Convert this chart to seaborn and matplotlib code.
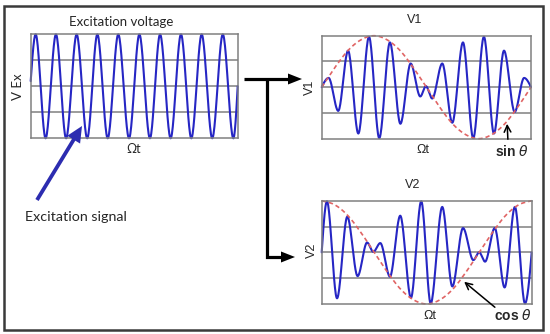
import numpy as np
import pandas as pd
import matplotlib
matplotlib.use("Agg")
import matplotlib.pyplot as plt
import seaborn as sns
from matplotlib.patches import FancyArrow, Rectangle

# ---------------- data (x = fraction of Ωt window) -------------
exc_x = [0.0, 0.024, 0.072, 0.122, 0.171, 0.222, 0.273, 0.322, 0.372, 0.423, 0.475,
         0.525, 0.576, 0.625, 0.676, 0.726, 0.776, 0.826, 0.877, 0.928, 0.979, 1.0]
exc_y = [0.1, 1.0, -1.0, 1.0, -1.0, 1.0, -1.0, 1.0, -1.0, 1.0, -1.0,
         1.0, -1.0, 1.0, -1.0, 1.0, -1.0, 1.0, -1.0, 1.0, -1.0, 0.0]

v1_x = [0.0, 0.033, 0.079, 0.126, 0.175, 0.226, 0.275, 0.326, 0.376, 0.425, 0.471,
        0.498, 0.528, 0.576, 0.624, 0.675, 0.724, 0.775, 0.823, 0.871, 0.922, 0.967, 1.0]
v1_y = [0.0, 0.18, -0.46, 0.71, -0.90, 0.98, -0.99, 0.87, -0.71, 0.46, -0.18,
        0.02, -0.22, 0.46, -0.69, 0.87, -0.99, 0.98, -0.90, 0.71, -0.48, 0.18, 0.0]

v2_x = [0.0, 0.025, 0.073, 0.122, 0.171, 0.216, 0.246, 0.279, 0.325, 0.374, 0.425,
        0.474, 0.519, 0.574, 0.622, 0.673, 0.722, 0.750, 0.778, 0.824, 0.871, 0.920,
        0.968, 1.0]
v2_y = [0.0, 0.99, -0.89, 0.69, -0.46, 0.19, 0.01, 0.18, -0.47, 0.71, -0.88,
        0.99, -0.99, 0.88, -0.66, 0.47, -0.15, 0.0, -0.18, 0.47, -0.68, 0.88,
        -0.99, 0.0]

env_x = [0.0, 0.0625, 0.125, 0.1875, 0.25, 0.3125, 0.375, 0.4375, 0.5,
         0.5625, 0.625, 0.6875, 0.75, 0.8125, 0.875, 0.9375, 1.0]
env1_y = [0.0, 0.38, 0.71, 0.92, 1.0, 0.92, 0.71, 0.38, 0.0,
          -0.38, -0.71, -0.92, -1.0, -0.92, -0.71, -0.38, 0.0]
env2_y = [1.0, 0.92, 0.71, 0.38, 0.0, -0.38, -0.71, -0.92, -1.0,
          -0.92, -0.71, -0.38, 0.0, 0.38, 0.71, 0.92, 1.0]

titles = ["Excitation voltage", "V1", "V2"]
ylabels = ["V Ex", "V1", "V2"]
xlabel = "Ωt"


def smooth(xs, ys, end_factor=1.0, n=24):
    """Smooth rendering (cubic Hermite) through the read points."""
    xs = np.asarray(xs, float)
    ys = np.asarray(ys, float)
    k = len(xs)
    m = np.zeros(k)
    for i in range(1, k - 1):
        if (ys[i] - ys[i - 1]) * (ys[i + 1] - ys[i]) <= 0:
            m[i] = 0.0
        else:
            m[i] = (ys[i + 1] - ys[i - 1]) / (xs[i + 1] - xs[i - 1])
    m[0] = end_factor * (ys[1] - ys[0]) / (xs[1] - xs[0])
    m[-1] = end_factor * (ys[-1] - ys[-2]) / (xs[-1] - xs[-2])
    ox, oy = [], []
    t = np.linspace(0, 1, n, endpoint=False)
    for i in range(k - 1):
        dx = xs[i + 1] - xs[i]
        h00 = 2 * t**3 - 3 * t**2 + 1
        h10 = t**3 - 2 * t**2 + t
        h01 = -2 * t**3 + 3 * t**2
        h11 = t**3 - t**2
        ox.extend(xs[i] + t * dx)
        oy.extend(h00 * ys[i] + h10 * dx * m[i] + h01 * ys[i + 1] + h11 * dx * m[i + 1])
    ox.append(xs[-1])
    oy.append(ys[-1])
    return pd.DataFrame({"x": ox, "y": oy})


sns.set_style("white")
plt.rcParams["font.family"] = ["Lato", "DejaVu Sans"]

W, H = 550, 334
fig = plt.figure(figsize=(5.5, 3.34), dpi=100)
fig.patch.set_facecolor("white")


def box(l, t, r, b):
    return [l / W, 1 - b / H, (r - l) / W, (b - t) / H]


BLUE = "#2626c4"
RED = "#e06464"
GRID = "#808080"

ax_e = fig.add_axes(box(30.7, 34.3, 237.7, 138.3))
ax_1 = fig.add_axes(box(321.7, 35.7, 531.0, 138.7))
ax_2 = fig.add_axes(box(321.7, 200.7, 531.7, 304.0))

for ax in (ax_e, ax_1, ax_2):
    ax.set_xlim(0, 1)
    ax.set_ylim(-1, 1)
    ax.set_yticks([-0.5, 0, 0.5])
    ax.set_xticks([])
    ax.tick_params(left=False, bottom=False, labelleft=False, labelbottom=False)
    ax.grid(axis="y", color=GRID, lw=1.1)
    ax.set_axisbelow(True)
    for s in ax.spines.values():
        s.set_color(GRID)
        s.set_linewidth(1.1)

sns.lineplot(data=smooth(exc_x, exc_y, 1.57), x="x", y="y", ax=ax_e, color=BLUE,
             lw=1.5, sort=False, estimator=None)
sns.lineplot(data=smooth(v1_x, v1_y, 1.57), x="x", y="y", ax=ax_1, color=BLUE,
             lw=1.5, sort=False, estimator=None)
sns.lineplot(data=smooth(env_x, env1_y, 1.0), x="x", y="y", ax=ax_1, color=RED,
             lw=1.2, sort=False, estimator=None, linestyle=(0, (2.6, 1.8)))
sns.lineplot(data=smooth(v2_x, v2_y, 1.57), x="x", y="y", ax=ax_2, color=BLUE,
             lw=1.5, sort=False, estimator=None)
sns.lineplot(data=smooth(env_x, env2_y, 1.0), x="x", y="y", ax=ax_2, color=RED,
             lw=1.2, sort=False, estimator=None, linestyle=(0, (2.6, 1.8)))

for ax in (ax_e, ax_1, ax_2):
    for ln in ax.get_lines():
        ln.set_clip_on(False)
    ax.set_xlabel("")
    ax.set_ylabel("")
    leg = ax.get_legend()
    if leg:
        leg.remove()

# ---------------- overlay for annotations, in pixel coords ----------------
ov = fig.add_axes([0, 0, 1, 1], zorder=-1)
ov.set_xlim(0, W)
ov.set_ylim(H, 0)
ov.axis("off")
ov.add_patch(Rectangle((3.5, 5.5), 539.5, 324.5, fill=False, ec="#3a3a3a", lw=1.8))

ov2 = fig.add_axes([0, 0, 1, 1], zorder=5)
ov2.set_xlim(0, W)
ov2.set_ylim(H, 0)
ov2.axis("off")
ov2.patch.set_alpha(0)

# black connector arrows
ov2.plot([244, 290], [79, 79], color="black", lw=2.3, solid_capstyle="butt")
ov2.add_patch(FancyArrow(288, 79, 14, 0, width=0.1, head_width=11, head_length=14,
                         length_includes_head=True, color="black", lw=0))
ov2.plot([267, 267, 283], [79, 257, 257], color="black", lw=2.3,
         solid_joinstyle="miter", solid_capstyle="butt")
ov2.add_patch(FancyArrow(281, 257, 14, 0, width=0.1, head_width=11, head_length=14,
                         length_includes_head=True, color="black", lw=0))

# excitation signal arrow
ov2.add_patch(FancyArrow(37, 200, 45, -74, width=3.8, head_width=15, head_length=16,
                         length_includes_head=True, color="#2c2cb0", lw=0))

# sin / cos arrows
ov2.annotate("", xy=(507, 121), xytext=(508, 142),
             arrowprops=dict(arrowstyle="->", color="black", lw=1.1,
                             mutation_scale=12))
ov2.annotate("", xy=(462, 280), xytext=(497, 309),
             arrowprops=dict(arrowstyle="->", color="black", lw=1.1,
                             mutation_scale=12))

# ---------------- texts ----------------
def ftext(x, y, s, **kw):
    fig.text(x / W, 1 - y / H, s, ha="center", va="center", **kw)

TXT = "#262626"
ftext(121, 22, titles[0], fontsize=9.5, color=TXT)
ftext(18, 87, ylabels[0], fontsize=9.5, rotation=90, color=TXT)
ftext(134, 149, xlabel, fontsize=9, color=TXT)
ftext(76, 217, "Excitation signal", fontsize=10.3, color=TXT)

arial = ["Liberation Sans", "DejaVu Sans"]
ftext(415, 20, titles[1], fontsize=9, family=arial, color=TXT)
ftext(310, 87, ylabels[1], fontsize=9, family=arial, rotation=90, color=TXT)
ftext(423, 150, xlabel, fontsize=9, family=arial, color=TXT)
ftext(512, 152, r"sin $\theta$", fontsize=10, family=arial, fontweight="bold",
      color=TXT)

ftext(413, 185, titles[2], fontsize=9, family=arial, color=TXT)
ftext(312, 250, ylabels[2], fontsize=9, family=arial, rotation=90, color=TXT)
ftext(430, 316, xlabel, fontsize=9, family=arial, color=TXT)
ftext(513, 315, r"cos $\theta$", fontsize=10, family=arial, fontweight="bold",
      color=TXT)

fig.savefig("out.png", dpi=100, facecolor="white")
